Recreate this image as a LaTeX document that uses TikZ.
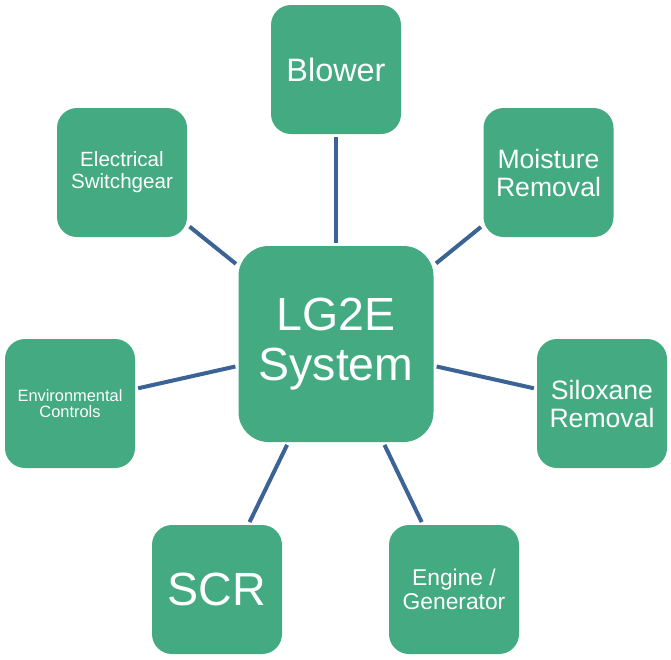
\documentclass[tikz,border=0pt]{standalone}
\usepackage{fontspec}
\setmainfont{Liberation Sans}
\definecolor{boxgreen}{RGB}{67,170,130}
\definecolor{linkblue}{RGB}{59,99,150}
\tikzset{
  satbox/.style={draw=none, fill=boxgreen, rounded corners=20pt, minimum width=130pt, minimum height=129pt, inner sep=0pt, align=center, text=white},
  hubbox/.style={draw=none, fill=boxgreen, rounded corners=30pt, minimum width=195pt, minimum height=196pt, inner sep=0pt, align=center, text=white},
  link/.style={draw=linkblue, line width=4pt, shorten <=3pt, shorten >=3pt}
}
\begin{document}
\begin{tikzpicture}[x=1pt,y=-1pt]
\useasboundingbox (0,0) rectangle (671,659);
\node[hubbox, font=\fontsize{46.5}{50}\selectfont] (hub) at (336,344) {LG2E\\System};
\node[satbox, font=\fontsize{32.4}{34}\selectfont] (blower) at (336,69.5) {Blower};
\node[satbox, font=\fontsize{26.6}{28}\selectfont] (moist) at (548.5,172.5) {Moisture\\Removal};
\node[satbox, font=\fontsize{26.6}{28}\selectfont] (silox) at (602,403.5) {Siloxane\\Removal};
\node[satbox, font=\fontsize{22.8}{24}\selectfont] (engine) at (454,589.5) {Engine /\\Generator};
\node[satbox, font=\fontsize{46.6}{50}\selectfont] (scr) at (217,589.5) {SCR};
\node[satbox, font=\fontsize{16.4}{16.5}\selectfont] (env) at (70,403.5) {Environmental\\Controls};
\node[satbox, font=\fontsize{20.6}{22}\selectfont] (elec) at (122,172.5) {Electrical\\Switchgear};
\draw[link] (hub) -- (blower);
\draw[link] (hub) -- (moist);
\draw[link] (hub) -- (silox);
\draw[link] (hub) -- (engine);
\draw[link] (hub) -- (scr);
\draw[link] (hub) -- (env);
\draw[link] (hub) -- (elec);
\end{tikzpicture}
\end{document}
